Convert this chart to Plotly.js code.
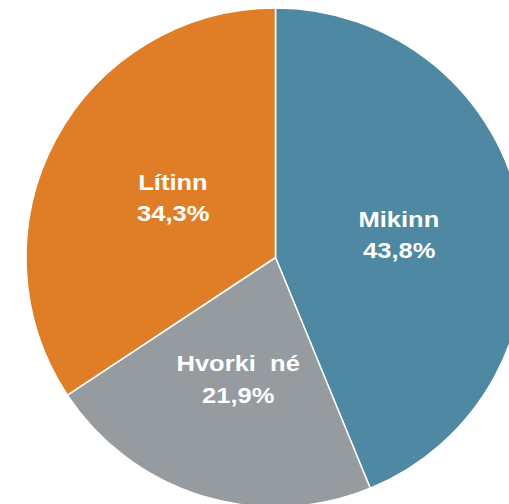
<!DOCTYPE html>
<html>
<head>
<meta charset="utf-8">
<script src="https://cdn.plot.ly/plotly-3.0.1.min.js"></script>
<style>
html,body{margin:0;padding:0;overflow:hidden;width:509px;height:504px;background:#fff;}
#chart{width:525px;height:507px;}
</style>
</head>
<body>
<div id="chart"></div>
<script>
const categories = ["Mikinn", "Hvorki\u00a0 né", "Lítinn"];
const values = [43.8, 21.9, 34.3];
const colors = ["#4E88A2", "#959B9E", "#E07E27"];

// label anchor points (pixels in page) for each slice's text block
const labelPx = [[399, 219], [237.5, 363], [172.5, 182]];
const lineGap = 32;

const W = 525, H = 507, ML = 26, MT = 8;
const fmt = v => v.toFixed(1).replace(".", ",") + "%";
const font = {family: "Liberation Sans, Arial, sans-serif", size: 22, color: "#ffffff", weight: "bold"};

const annotations = [];
categories.forEach((c, i) => {
  const [px, py] = labelPx[i];
  [c, fmt(values[i])].forEach((t, j) => {
    annotations.push({
      xref: "paper", yref: "paper",
      x: (px - ML) / (W - ML),
      y: 1 - (py + j * lineGap - MT) / (H - MT),
      xanchor: "center", yanchor: "middle",
      text: t, showarrow: false, font: font
    });
  });
});

Plotly.newPlot("chart", [{
  type: "pie",
  labels: categories,
  values: values,
  sort: false,
  direction: "clockwise",
  rotation: 0,
  marker: {colors: colors, line: {color: "#ffffff", width: 1.5}},
  textinfo: "none",
  hoverinfo: "none",
  showlegend: false
}], {
  width: W,
  height: H,
  margin: {l: ML, r: 0, t: MT, b: 0},
  paper_bgcolor: "#ffffff",
  showlegend: false,
  annotations: annotations
}, {staticPlot: true}).then(() => {
  document.querySelectorAll("#chart text.annotation-text").forEach(el => {
    const bb = el.getBBox();
    const cx = bb.x + bb.width / 2;
    const prev = el.getAttribute("transform") || "";
    el.setAttribute("transform", prev + ` translate(${cx},0) scale(1.16,1) translate(${-cx},0)`);
  });
});
</script>
</body>
</html>
